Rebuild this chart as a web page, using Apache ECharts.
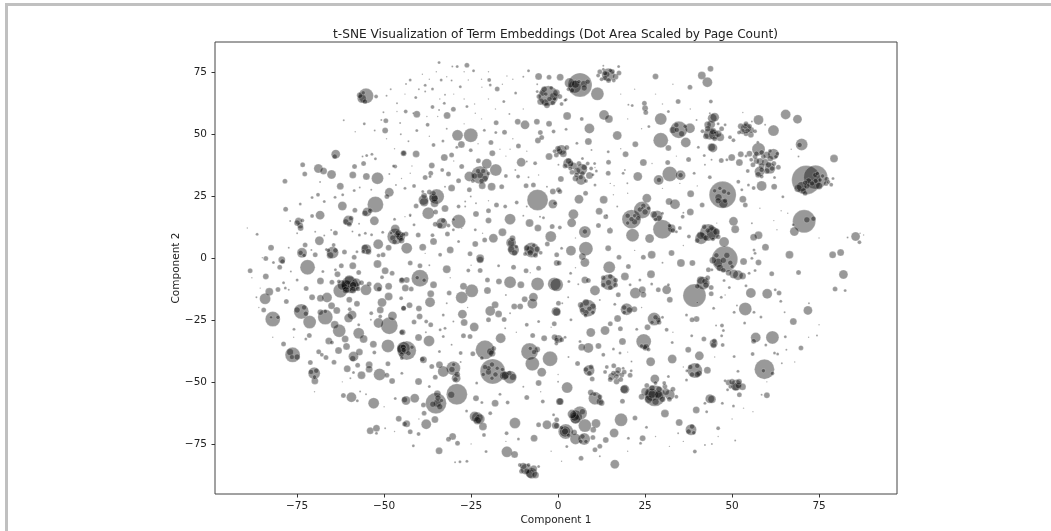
<!DOCTYPE html>
<html><head><meta charset="utf-8"><style>html,body{margin:0;background:#fff}#c{width:1051px;height:531px}</style>
<script src="https://cdn.jsdelivr.net/npm/echarts@6/dist/echarts.min.js"></script></head><body><div id="c"></div>
<script>
const titleText = "t-SNE Visualization of Term Embeddings (Dot Area Scaled by Page Count)";
const xName = "Component 1", yName = "Component 2";
const xTicks = [-75,-50,-25,0,25,50,75];
const yTicks = [-75,-50,-25,0,25,50,75];
// each term: [component 1, component 2, page count]
const northWestFar = [[-55.2,65.3,225],[-56.4,64.2,81],[-52.3,65,16],[-49.5,55.3,25],[-49.7,51.3,36],[-55.7,54,9],[-61.6,55.5,4],[-50.2,58.7,4],[-48.1,68,4],[-50.8,55.6,4],[-63.9,41.8,81],[-64.2,40.8,25],[-73.4,37.5,25],[-68.9,36,81],[-67.4,35,49],[-65.1,33.6,81],[-72.8,33.8,25],[-78.5,30.9,25],[-59,33.4,49],[-55.1,32.8,49],[-51.9,32.1,144],[-55.9,38,25],[-58.5,36.8,25],[-52.5,39.9,9],[-62.6,28.9,49],[-48.5,26.4,81],[-49.2,24.7,25],[-52.5,21.5,256],[-54.9,18.5,81],[-62,20.9,81],[-68.4,17.2,81],[-60.3,15,100],[-52.8,14.9,81],[-78.3,19.6,25],[-74.6,14.8,49],[-74.1,13,36],[-70.7,16.9,16],[-68.6,6.9,81],[-64,10,25],[-86.5,9.5,9],[-82.5,4.1,36],[-73.6,2,100],[-64.8,2.1,144],[-61.4,2.3,25],[-55.1,3.5,100],[-51.7,5.5,100],[-46.8,8.6,256],[-46.3,9.2,36],[-46.8,11.6,81],[-58.6,0.2,25],[-50.3,1.2,25],[-48.7,4.1,36],[-72.7,5.2,25],[-79.4,-0.8,49],[-84,-0.3,25],[-44.4,42.2,25],[-46.8,36.8,16],[-64.1,24.4,9],[-61.9,25.4,9],[-58.6,27.1,9],[-58.4,19.2,25],[-47,15.6,9],[-50.4,10.3,9],[-64.5,5.2,16],[-55.4,9.9,9],[-57.1,9.2,9],[-53.6,9.3,9],[-57.2,13.7,4],[-69.8,1.2,25],[-66.6,3.4,9],[-57.8,2.5,9],[-51.6,0.9,16],[-69,25.4,16],[-70.7,24.3,9],[-74.1,21.7,9],[-67.2,22.7,9],[-77,14.8,4],[-75,9.9,4],[-69.8,10.5,4],[-53.5,41.8,9],[-55,41.2,9],[-56.2,40.8,4],[-48.5,33.8,4],[-68.4,30.6,4],[-57,28.3,4],[-53.7,27.4,4],[-46.6,29.4,4],[-65.2,11.2,4],[-59.1,10.6,4],[-89.3,12,2],[-49.3,48,2],[-58.3,50.8,2],[-52.7,51.3,4],[-49.3,65.3,4],[-46.3,62.3,4],[-45.4,54.3,4],[-45.2,49.8,4],[-46.3,59,2],[-47.3,37,9],[-77.4,4.1,4],[-67.2,9,4],[-70.9,3.2,4]];
const northWestMid = [[-2.8,65.3,400],[-3.7,62.6,49],[-1.3,65,64],[-4.4,66.4,36],[-5.6,73.1,49],[-2.6,72.8,25],[0.6,72.8,49],[-6,70,4],[-8.5,75.4,9],[-26.2,77.6,25],[-34.2,78.7,9],[-24.3,75.4,9],[-19.8,71.7,16],[-19.5,69.7,9],[-17.5,68.1,25],[-38.2,69.6,9],[-33.6,71.7,9],[-40.9,64.6,9],[-40.6,57.9,49],[-43.8,59,16],[-36.1,60.8,16],[-31.9,57.4,49],[-30.1,59.9,25],[-34.2,59.6,4],[-37.5,53.6,16],[-26.2,61,9],[-28.1,69,9],[-15.6,63,9],[-12.2,66.4,9],[-28.9,49.4,121],[-25.1,49.4,196],[-27.8,45.7,49],[-25.1,43.4,16],[-35.8,45.5,16],[-33.1,47.1,9],[-40.6,51.3,9],[-17.8,54.5,25],[-15.4,50.6,25],[-11.6,54.9,36],[-9.5,53.6,81],[-6.1,54.9,36],[-2.6,54,36],[-21.2,51.4,9],[-17.9,50.5,9],[-19.3,46.5,25],[-18.9,42.2,36],[-11.4,45.1,25],[-5.1,50.5,25],[-1.3,50.9,16],[-5.8,47.3,36],[-4.7,48.5,25],[-10.6,38.5,81],[-2.6,40.8,49],[-6.6,38.1,16],[-11.5,32.8,16],[0.8,31.8,36],[-44.4,42.2,36],[-40.8,41.9,49],[-32.7,40.4,49],[-30.6,41.5,25],[-36.3,37.2,36],[-33.3,35.4,16],[-36.6,34.1,25],[-31.5,33.8,25],[-38.2,32.4,25],[-41.4,29,16],[-27.7,36.8,25],[-22.9,39.1,25],[-20.5,37.9,100],[-17.9,35.4,144],[-22.4,33.4,324],[-25.5,32.8,100],[-22.4,33.4,49],[-19.1,28.7,64],[-21.8,29.1,49],[-16.2,28.7,25],[-15,33,16],[-28.6,31.1,25],[-25.5,27.4,25],[-30.6,28.1,49],[-34.9,24.7,225],[-35.8,24,81],[-38.7,23.3,100],[-37.3,18,144],[-32.5,19.9,49],[-40.8,20.9,25],[-35.2,18.5,25],[-33.4,13.9,121],[-28.6,14.6,196],[-35.3,13.5,25],[-5.9,23.3,441],[-1.5,21.7,81],[-1.5,26.7,36],[0.1,27.4,25],[-7.1,29.4,25],[-9.2,29.1,25],[-11.9,22.3,16],[-17.7,21.3,25],[-15.2,20.7,16],[-28.6,20.7,16],[-23.6,17.7,36],[-20,15,36],[-13.8,15.6,121],[-8.2,14,64],[-5.8,12,49],[-1.7,12.6,25],[-2.1,8.6,121],[-16,10.3,64],[-13.1,7.9,36],[-13.5,6.1,100],[-12.8,3.2,121],[-18.6,7.9,81],[-21.1,7.2,25],[-7.6,3.2,225],[-8,3.2,64],[-23.8,5.6,36],[-31,3.2,49],[-38.9,4.3,49],[-35.8,6.6,49],[-43.5,3.9,121],[-31.8,9.6,25],[-40.2,9.2,25],[-36.1,9.1,16],[-25.3,1.6,25],[-22.4,-0.2,64],[-33.9,1.2,16],[-20,19,25],[-23.8,11.3,9],[-3.1,5.6,25],[-0.4,1.2,25],[-43.7,9.6,25],[-45.2,8.6,81],[-42.5,17.3,9],[-41.4,13.3,9],[-4.2,16.2,9],[-30.4,77.1,4],[-29,77.1,9],[-42.5,71.7,9],[-43.7,70.1,4],[-36.1,68.1,9],[-38.2,67,4],[-32.5,65.7,4],[-30.6,71.5,4],[-23.8,58.3,2],[-32.7,62.3,9],[-21.9,68.8,2],[-14.7,73.3,2],[-25.8,71.7,2],[-29.1,44.6,9],[-16.7,43.8,2],[-13.8,43.8,2],[-41.6,58.3,4],[-37.7,57,2],[-34.6,57,2],[-42.5,34.1,2],[-44,28,9],[-36.8,32.8,9],[-26.7,22.7,4],[-25.1,24.7,4],[-23.6,22,4],[-3.2,28.7,4],[-9,38.8,4],[-5.6,33.4,2],[-8.5,32.5,4],[0.1,37.5,4],[-12.3,35.4,4],[-30.1,11.3,9],[-27.7,11.9,2],[-26.7,20.7,4],[-32.5,28.7,4],[-42.5,16.9,4],[-44,16.6,2],[-38.2,1.8,2],[-28.6,6.6,9],[-21.7,9.9,2],[-9,20.7,4],[-5.2,16.6,4],[-35.8,26,25],[-38.9,26.7,9]];
const northEastMid = [[6.3,69.7,576],[4.8,69,169],[7.4,70.1,49],[11.3,66.1,169],[14.4,73.8,169],[13.5,74.4,25],[15.6,75.1,25],[17.4,77.1,9],[13,77.4,4],[28,73.1,36],[41.3,73.5,64],[43.8,76.2,36],[42.9,70.8,100],[37.9,68.8,25],[34.5,63,25],[43.9,63,16],[2.3,63.8,9],[21.3,61.4,9],[24.8,62.3,25],[25,60.3,36],[25.2,58.6,25],[13.2,57.6,100],[14.6,56,64],[2.6,57.2,64],[6.8,56,16],[9,52.1,100],[17,49.3,81],[8.7,46.9,49],[1,43.5,100],[0.5,42.9,36],[5.4,46.2,9],[14.4,42.8,9],[14.5,38.5,25],[19.4,41.8,36],[22.2,45.8,36],[24.5,38.4,49],[29.5,56,144],[29.5,47.4,225],[31.7,44.3,36],[34.7,51.6,289],[37.9,52.2,100],[36.7,46.5,100],[43,53.6,49],[44.3,56.3,81],[43.6,50,144],[44.1,44.6,64],[37.5,39.6,25],[32.1,33.8,225],[28.9,31.4,100],[35.2,33.3,100],[22.9,32.8,81],[31.5,38.4,25],[43.6,32.5,16],[38.1,25.8,49],[41.4,21.3,25],[2.9,38.1,100],[3.6,37.9,36],[6.8,35.7,121],[6.6,31.4,100],[9,33.2,49],[5.3,33.4,25],[6,23.6,81],[7.9,26,25],[13.1,23.4,64],[11.8,18.8,49],[4.4,17.6,100],[3.9,14.1,81],[25.5,24,81],[24.2,19.3,289],[21.1,15.6,361],[21.4,9.1,169],[28.5,16.9,121],[30,11.5,361],[26.3,7.8,81],[33.6,21.6,100],[31.9,22.7,49],[38,18.5,49],[32.6,11.9,64],[7.7,10.4,144],[0.5,12.2,16],[14.9,10.9,36],[11.6,13,25],[13.7,16.6,25],[8,3.7,196],[3.7,2.9,100],[14.4,3.9,36],[7,0.5,49],[17.5,0.2,25],[24.5,0.2,25],[26.9,1.2,64],[32.6,1.9,36],[41.1,7.9,144],[43.2,10.2,289],[37.6,8.6,16],[19.2,35.4,4],[14.4,34.1,25],[10.6,29.4,9],[35.8,16.6,16],[0.5,26.7,25],[-0.9,22,16],[40.3,44.6,9],[42,41.2,9],[26.1,52.9,9],[31.7,59,9],[1,3.9,9],[10.6,36.4,2],[9.6,43.5,4],[2.3,51.8,9],[16.1,29.1,2],[15.9,25.4,2],[19.9,30.1,4],[17,20.7,4],[14,17.2,4],[18.7,34.1,9],[20.2,61.7,4],[39.8,55.6,4],[43.6,58.3,4],[39.1,34.1,9],[36,18.2,4],[44.1,39.5,4],[42.2,37.5,4],[24.2,20,9],[21.1,15.6,25],[7.7,10.6,25],[34.1,51.6,25],[29,31.4,25],[35.2,33.3,25]];
const northEastFar = [[71.3,31.4,841],[74,32.5,576],[47.3,25.4,729],[70.7,14.7,529],[65.4,57.8,100],[68.8,55.9,81],[57.6,55.6,100],[61.9,51.3,121],[54,52.2,100],[70,45.7,144],[79.3,40,64],[57.6,43.8,169],[61.9,41.8,121],[58.5,29,100],[62.1,28.7,36],[57.9,34.8,100],[60.9,36.1,121],[45,56.7,81],[44.5,44.3,81],[46.6,48.6,64],[44.7,49.6,100],[50.4,14.7,81],[50.9,11.5,64],[44.5,9.9,169],[47.7,6.4,100],[56.2,8.3,49],[57.6,9.1,64],[59.6,4.3,49],[66.5,1.2,64],[78.9,1.2,49],[81.2,2.1,49],[85.5,8.6,81],[86.6,6.3,16],[67.9,10.6,81],[73.4,15.8,25],[71.5,15.3,36],[47.9,-0.5,676],[53.1,23.6,49],[53.8,21.3,25],[46.9,39.2,25],[49.9,40.4,49],[52.1,38.4,49],[52.5,41.8,36],[50.4,47.4,16],[54.5,35,16],[51.8,30.7,16],[64.6,24.6,9],[77.2,31.7,25],[77.7,30.6,16],[67.6,13.3,9],[47.5,21.9,81],[46.1,24.4,49],[47.7,26.7,25],[56.2,28.1,16],[53.8,52.9,25],[54.4,51.3,25],[56.6,51,16],[55.4,49.6,36],[56.6,40.8,25],[59,40.8,25],[58.1,38.8,49],[60.5,37.5,36],[60.9,43.1,16],[62.6,40.8,16],[63.3,36.5,25],[70,28.7,100],[71,30.3,25],[73.9,33.4,25],[75.3,31.4,16],[69.4,45.5,25],[53.1,58.6,2],[59.5,53.6,4],[55.7,55,4],[48.5,39.5,9],[45.1,50.5,9],[48,53.6,9],[54.7,29.4,9],[52.8,27.4,9],[49.4,48.6,16],[57.4,46.6,9],[69.1,40.8,4],[67,43.8,2],[58.5,32.8,16],[62.2,32.4,9],[55.7,13.9,4],[64.1,19,2],[62.9,11.3,2],[68.6,27.4,2],[83.2,8.2,4],[86.8,9.9,2],[87.8,9.2,2],[56.3,3.2,9],[56.6,1.8,9],[55.7,-0.2,9],[45.6,14,2]];
const southWestFar = [[-72,-3.8,225],[-88.5,-5.2,25],[-84,-7.5,36],[-79.2,-1.5,25],[-80,-3.8,25],[-68.3,-9.3,49],[-63.4,-6.6,36],[-59,-3.2,49],[-62.3,-3.2,25],[-51.9,-2.5,64],[-49.7,-5.2,49],[-47.7,-6.2,25],[-44.9,-8.9,25],[-50.6,-7.8,16],[-59.9,-10.9,289],[-60.9,-10.9,100],[-58.9,-11,49],[-62.6,-13.3,196],[-55.2,-12.9,121],[-51.8,-11.8,81],[-48.7,-11.5,49],[-54.3,-10.5,25],[-51.4,-12.6,25],[-57.3,-5.9,25],[-65,-9.8,25],[-72.4,-12.4,25],[-80.5,-12.8,25],[-83,-13.7,64],[-84.2,-16.5,121],[-78.4,-12.2,9],[-78.1,-17.6,25],[-70.7,-15.9,36],[-66.4,-16,100],[-68.3,-16.3,49],[-60,-16.9,36],[-57.8,-18.5,36],[-50.6,-18,81],[-48.7,-15.6,64],[-45.1,-16.3,16],[-84.6,-21,25],[-73.8,-21.6,225],[-82,-24.7,225],[-71.4,-25.9,169],[-66.9,-23.9,225],[-65.1,-19.3,49],[-63.6,-21.2,49],[-68.3,-21.9,36],[-66.9,-21.6,16],[-59.2,-23,81],[-60.2,-24.3,81],[-59.9,-20.7,16],[-53.7,-22.3,16],[-51.1,-21,49],[-51.6,-26.3,100],[-48.5,-27.4,289],[-47.6,-23.4,81],[-44.4,-20.3,25],[-64.2,-27,64],[-62.9,-29.4,169],[-57.3,-30.4,121],[-55.9,-32.7,64],[-61.2,-32.7,49],[-44.9,-30,25],[-44.4,-36.4,169],[-48.9,-35.5,169],[-53.1,-34.8,49],[-65.9,-33.5,49],[-65,-34.1,16],[-71.5,-31.3,25],[-78.9,-34.7,25],[-75.9,-28.8,9],[-72.5,-32.7,9],[-63.1,-37.4,49],[-60.8,-35.7,49],[-76.3,-39.1,225],[-68.8,-37.9,25],[-67.9,-39.1,16],[-66.7,-40.2,25],[-57.1,-38,49],[-58.8,-39.8,100],[-59,-40.6,36],[-64.4,-42.1,25],[-52.8,-38.2,16],[-54.3,-43.1,49],[-48.9,-42.7,25],[-44.9,-40.4,16],[-71.2,-42.2,25],[-70.1,-46.5,144],[-69.9,-49.6,49],[-60.6,-44.7,49],[-57.6,-43.3,25],[-54.3,-44.9,49],[-56.5,-47.3,64],[-51.3,-47,144],[-49.2,-47.3,25],[-47.7,-49.7,36],[-59.4,-56.2,100],[-61.7,-55.5,25],[-53,-58.6,121],[-57.7,-57.6,9],[-46.8,-56.7,9],[-44.1,-57.2,36],[-45.8,-64.9,36],[-44.1,-67,25],[-54,-69.7,49],[-52.2,-68.7,49],[-52.2,-70.7,9],[-49.7,-68.7,4],[-55.2,-55,4],[-56.9,-53.9,4],[-59.7,-48.5,4],[-58.8,-46.2,9],[-44.9,-46.5,9],[-75,-8.9,9],[-76.8,-5.5,4],[-85.6,-12.2,2],[-86.7,-15.9,4],[-77.4,-12.9,4],[-78.9,-10,9],[-81.8,-1.9,9],[-67.6,-5.5,9],[-64,-4.8,9],[-51.1,-23.6,16],[-53.8,-25,4],[-57.3,-27,9]];
const southWestMid = [[-39.7,-8.2,289],[-44.9,-9.1,36],[-43.5,-8.9,36],[-42.5,-2.1,25],[-39.7,-3.2,25],[-35.8,-10.9,49],[-32,-4.6,64],[-43.9,-12.2,49],[-42.2,-12.6,25],[-36.6,-14.5,49],[-36.8,-17.9,100],[-40,-20.4,36],[-42.7,-19.1,36],[-44.4,-20.3,25],[-41.4,-25.9,25],[-39.8,-23.6,36],[-37.9,-25.7,16],[-36.6,-27,25],[-44.7,-30,36],[-43.5,-37.4,361],[-44.9,-36.8,100],[-40.1,-32.1,49],[-37.1,-33.5,121],[-32.5,-28.4,9],[-27.7,-16,144],[-24.8,-13.3,169],[-27.2,-11.5,49],[-31.3,-14.2,25],[-20.3,-13.2,49],[-25.8,-5.1,16],[-22.4,-5.1,25],[-22.4,-0.8,49],[-20.3,-8.9,25],[-17.1,-3.2,9],[-17,-9.5,36],[-13.8,-9.8,144],[-10.7,-10.9,49],[-5.9,-10.5,169],[-1.1,-10.5,169],[-9.2,-5.2,25],[-12.8,-3.8,25],[-5.6,-4.2,25],[-0.4,-2.1,36],[-9.6,-16.7,36],[-7.1,-15.9,81],[-7.4,-18.5,100],[-12.6,-19.6,36],[-10.9,-19.6,36],[-18.1,-18.9,49],[-19.5,-21.4,100],[-17.1,-22.6,49],[-27.5,-22.7,81],[-27,-26.1,49],[-24.1,-27.9,81],[-20,-25,25],[-15.5,-24.9,25],[-0.6,-21.6,81],[-1.1,-26.6,25],[-9,-27,16],[-16.5,-32.4,100],[-21,-37.1,361],[-19.5,-37.8,49],[-27.2,-31.4,25],[-25.3,-31.7,25],[-34.1,-37.8,9],[-28,-38.4,16],[-24.5,-38.7,25],[-21.9,-40.4,16],[-8.2,-37.8,289],[-6.9,-38,25],[-7.4,-42.7,196],[-2.3,-40.7,225],[-0.4,-33.1,25],[-4,-32.4,36],[-7.3,-31.3,25],[-4.7,-46.1,81],[-5.6,-50.5,36],[-18.8,-45.8,625],[-20,-44.5,25],[-15.2,-47.4,64],[-13.8,-48.1,169],[-33,-45.8,121],[-30.1,-44.5,196],[-29.3,-48.5,81],[-34.1,-43.1,49],[-36.3,-43.8,25],[-38.7,-41.1,49],[-35.3,-48.1,25],[-40.1,-49.9,49],[-29.1,-55,441],[-35.1,-58.6,441],[-34.7,-54.8,49],[-30.7,-55.2,49],[-41.2,-56.6,81],[-43.7,-57.5,81],[-38.7,-59.3,25],[-34.7,-58.6,64],[-23.6,-56.6,36],[-18.1,-58.6,49],[-14.5,-58.3,16],[-9,-56.3,25],[-4.4,-57.9,16],[0.4,-57.9,49],[-23.2,-64.4,121],[-23.2,-65.6,64],[-21.6,-68,64],[-19.5,-62.6,16],[-12.4,-66.6,121],[-3.2,-67.3,81],[-0.8,-67.6,49],[-5.6,-67.3,25],[-43.5,-66.9,49],[-37.9,-67.1,100],[-35.4,-65.2,49],[-42.5,-70.1,25],[-40.1,-71,16],[-38.5,-62.6,25],[-26.3,-61.7,9],[-31.5,-73.1,25],[-30.3,-72,49],[-28.9,-74.7,25],[-34.2,-77.8,49],[-41.6,-75.8,9],[-21.3,-71.4,16],[-14.8,-70.7,16],[-11.4,-73,9],[-6.9,-72.7,49],[-14.7,-78.2,121],[-12.5,-79.3,49],[-20.7,-78.1,9],[-9.2,-85.2,121],[-7.6,-86.8,121],[-5.6,-84.1,9],[-28.2,-82.2,9],[-26.2,-82,9],[-29.6,-82.4,4],[-23.4,-50.5,9],[-37,-51.9,9],[-1.3,-63.3,9],[-21.9,-58.3,9],[-16.7,-55,9],[-33,-23,9],[-32,-18.3,4],[-30.1,-25.7,4],[-33.9,-29,9],[-33,-31.7,9],[-30.6,-35,4],[-13.8,-22.3,4],[-15.2,-28.4,4],[-5.6,-25.7,9],[-39,-40.9,25],[-44.4,-37.1,25]];
const southEastMid = [[14.7,-3.8,144],[7.7,-1.9,81],[19.2,-7.5,64],[20.2,-3.5,25],[14.6,-9.8,256],[10.6,-13.2,100],[7.7,-8.9,49],[8.7,-9.1,25],[-0.4,-10.9,169],[26.7,-6.6,64],[22.2,-14.2,121],[24.2,-12.9,49],[24.5,-14.9,36],[28.8,-12.9,25],[31.2,-12.9,81],[32.1,-16.9,36],[35.3,-2.1,64],[38.6,-2.1,36],[39.2,-15.2,529],[41.7,-10.2,169],[42.2,-9.5,36],[8.5,-20.3,289],[7.9,-23.2,16],[-0.4,-21.8,64],[19.7,-20.7,144],[21.9,-20.7,36],[27.6,-24.7,169],[28.8,-25,25],[17.1,-24.5,49],[9.4,-30.1,81],[13.5,-29.3,81],[17.9,-28.6,25],[15,-26.6,25],[25.7,-28,36],[24.6,-33.7,225],[25.2,-36,49],[18.5,-33.7,49],[8.7,-36.3,100],[6.8,-36,49],[11.6,-35.5,36],[32.8,-34.1,9],[37.4,-37.1,36],[39.8,-24.7,36],[38.5,-25,25],[31.2,-29,16],[41.9,-32.7,25],[44.7,-34.4,64],[40.6,-39.5,81],[26.6,-41.9,81],[32.8,-40.8,81],[39.3,-45.4,225],[40.5,-46.5,36],[42.9,-45.3,49],[8.9,-45.4,121],[5.6,-42.6,25],[13,-39.1,16],[15.9,-36.8,9],[9.8,-48.8,25],[2.6,-52.3,121],[0.6,-57.9,49],[15.9,-46.5,25],[17.3,-45.2,36],[18.3,-47.2,25],[15.4,-47.8,49],[16.8,-49.9,36],[18.7,-44.5,9],[20.7,-47.3,25],[19.2,-53,81],[16.8,-47.8,25],[10.6,-56.6,169],[12,-57.9,49],[9.4,-54.3,36],[18.5,-57.8,25],[27.8,-48.8,81],[27.8,-55.6,441],[26.9,-55.2,169],[28.8,-55,64],[32.1,-55.2,100],[30.7,-51.9,25],[30.7,-62.8,64],[34.8,-66.4,49],[38.2,-69.3,121],[39.7,-61.3,49],[43.6,-56.8,81],[22.1,-64.6,25],[18.1,-65.3,169],[5.1,-64,169],[4.8,-64,81],[6.3,-62.6,196],[7.7,-67.6,169],[10.9,-66.8,81],[10.1,-69.3,36],[2.2,-70,225],[2,-70,49],[4.6,-70.4,36],[5,-73,121],[7.5,-73,144],[10,-72.4,25],[13.7,-73.4,36],[16.1,-70.6,81],[-0.4,-67.7,36],[-0.4,-65.3,25],[10.6,-77.4,25],[12,-76,25],[24.3,-72.7,36],[16.3,-83.2,81],[6.6,-80.8,25],[39.3,-78.1,16],[20.2,-72.7,9],[23.7,-74.7,9],[25.4,-68.3,9],[2.5,-76.1,9],[16.3,-18.7,9],[3.6,-6.2,9],[3.1,-9.5,9],[5.8,-10.6,4],[0.3,-2.1,25],[20.7,-10.9,9],[17.3,-14.9,25],[23.5,-8.9,9],[26.9,-10.5,9],[3.7,-25,9],[1.2,-18.3,4],[0.1,-18.3,25],[2.9,-15.9,4],[22.6,-28.8,9],[38.4,-31.4,9],[0.1,-32.7,64],[6.3,-33.7,9],[21.1,-41.8,4],[31.7,-47.8,9],[36.9,-49.2,9],[42.2,-58.6,9],[42.7,-62,9],[42.2,-75.4,4],[34.5,-70.7,4],[17.8,-38.4,9],[31.7,-10.9,9],[43.2,-4.8,25],[36.9,-23,9]];
const southEastFar = [[82,-6.7,81],[79.6,-12.6,25],[82.5,-13.2,9],[71.8,-21.2,81],[67.6,-25.7,49],[53,-7.3,49],[51.7,-7,100],[55.4,-14.2,100],[60.1,-14.5,100],[63.5,-14.2,25],[64,-17.5,9],[53.8,-20.6,169],[57.6,-1.9,36],[53.3,-1.5,49],[61.4,-6.4,25],[69.1,-5.9,25],[50.6,-21.9,9],[58.3,-23.9,9],[56.3,-21.9,9],[56.8,-32.1,100],[61.6,-32.1,169],[56.2,-33.6,25],[65.3,-31.8,9],[69.8,-36.3,25],[44.9,-33.5,25],[44.7,-35.2,36],[47.1,-27.3,16],[47.3,-35.1,16],[55.9,-38.8,16],[50.6,-39.8,9],[62.2,-38.4,9],[63.1,-38.8,9],[65.6,-37.1,4],[53.6,-26.3,9],[59.3,-44.9,400],[59,-45.5,16],[61.6,-46.6,16],[51.7,-45.7,9],[51.2,-51.3,121],[51.8,-51.5,36],[49,-50.3,36],[60,-55.4,36],[52.1,-55.2,25],[44.2,-57,64],[50.4,-59.7,9],[46,-68.7,16],[47.2,-58.6,9],[48.7,-53.2,9],[50.9,-73.6,4],[44.2,-75,4],[74.4,-31.3,4],[64.3,-42.5,4],[72.1,-18.3,4],[65.1,-21.9,4],[58.5,-55.2,4],[53.3,-60.6,2],[47.7,-9.1,9],[49.2,-12,9],[46.9,-15.9,9],[44,-14.5,25],[44.7,-20.3,9],[51.4,-19.2,4],[54,-11.3,9],[56.6,-5.1,9],[54.9,-6.2,9],[44.2,-4.8,9],[62.4,-12.9,9],[45.4,-27.3,4],[47.5,-29.3,9],[47,-31.4,9],[59.7,-35.1,9]];
const northClusters = [[-4,68,36],[-2,68.5,16],[-5.5,65,25],[-5,63,49],[-3.2,61.5,36],[-1.5,62.5,25],[-0.5,66.5,49],[0.5,65,25],[-2.5,64,25],[-3.5,66,16],[-1,64,16],[-6,67,9],[1,62,16],[2,63.5,9],[3.3,70.5,100],[5,70,64],[4,67.5,25],[7.5,68.5,36],[6,71,16],[8.5,71,25],[3,68,16],[12,75,25],[13.5,72.5,25],[14.5,71.5,25],[16.5,73,36],[15,75.5,16],[12.5,72,16],[16,71.5,16],[11.5,73.5,16],[13,76,9],[17.5,74.5,25],[14,74,36],[-57,65.5,36],[-56,66.5,16],[-55.5,63,25],[3,39,36],[4.5,37,49],[6,38,25],[7.5,36.5,36],[5.5,35,49],[4,34.5,25],[7,34,25],[8.5,38,16],[9.5,36,16],[6.5,32.5,25],[5,32,36],[3.5,36,16],[10.5,38,9],[11,35,9],[8,31,16],[2,37,25],[10,33.5,9],[7,40,9],[0,44,36],[1.5,42,49],[-0.5,41.5,25],[2.5,44.5,25],[-1,43,16],[20,17,25],[22,14.5,36],[23,16,25],[24.5,21,25],[25,18.5,36],[23.5,19.5,25],[26,20,16],[20,14,16],[22,17,16],[33,11,25],[35,12,16],[32,13,16],[34,10.5,9],[27.5,17.5,49],[29,16,36],[28,15.5,16],[30,18,9],[41,9,64],[42.5,8,36],[44,12,36],[45.5,10.5,49],[43,11,25],[46,8.5,25],[44.5,7.5,16],[42,12.5,25],[40,7,25],[33,51.5,49],[35.5,50,36],[34,53.5,25],[36.5,53,16],[43,52,36],[44.5,51,49],[46,50,49],[42.5,49,36],[45,48,25],[47,52,25],[41.5,51,16],[44,53.8,64],[46,54,9],[52.5,53,36],[54,54,25],[55,53,25],[53,51,36],[55.5,51.5,36],[52,50.5,16],[54,50,25],[55,42,36],[57,42,25],[58.5,42.5,25],[60,41.5,49],[61,40,36],[57,39,36],[58.5,37,36],[59.5,38.5,49],[56,37.5,25],[62,38,25],[60,35,36],[57.5,33.5,36],[58.5,35.5,25],[61.5,36,25],[55.5,39.5,16],[63,42,16],[54,41,9],[69,28,64],[70.5,27,36],[71.5,29,36],[72,31,36],[74,31,25],[75,29,49],[76,33,16],[77,30,25],[73,30,25],[71,26,25],[74.5,34,16],[78.5,29.5,16],[79,32,9],[46,23,36],[48,23,25],[49,26,16],[45,27,16],[46.5,28,16],[-47.5,8,36],[-46,10,36],[-45,7,36],[-47,6.5,25],[-44.5,9.5,16],[-48,10,9],[-45.5,8.5,49],[-24,33,36],[-21,32,36],[-23,35,25],[-21.5,35,25],[-22,31,25],[-24.5,31,16],[-20,34,16],[-9,4,36],[-8,2,36],[-6,3.5,36],[-7,5,16],[-6.5,1,25],[-9.5,1.5,16],[-5,2,16],[-13.5,3.5,49],[-12.5,2,36],[-13.5,6,49],[-12,4.5,16],[-38.5,22.5,81],[-38.5,25,36],[-35.5,22,64],[-35.5,24,49],[-37,26.5,25],[-34,13,36],[-33,15,25],[-31.5,13,16],[-30,15.5,9],[-55.5,18,36],[-54,19,25],[-61,14.5,36],[-59.5,16,25],[-60,13.5,25],[-75,14,36],[-74,12,36],[-73.5,15,16],[-65.5,1,49],[-64,3,25],[-66,3,16],[-55.5,4,49],[-54.5,2.5,36],[-56,2.5,16],[-74,2,25],[-73,1,16]];
const southClusters = [[-62,-11,100],[-60,-9,100],[-58,-10,81],[-61,-13,49],[-59,-13,49],[-56.5,-10,25],[-63,-9.5,16],[-57.5,-12.5,25],[-60.5,-11.5,144],[-58.5,-11.5,100],[46,-2,81],[46.5,-4,49],[47.5,-1,36],[48.5,1,36],[49.5,-2,25],[44.5,-1,49],[45.5,1,25],[50,-3.5,16],[47.5,-5,25],[49,-6,36],[50.5,-6.5,81],[25,-54,64],[27,-52.5,36],[29,-53,36],[31,-54,49],[26,-57,64],[28,-58,49],[30,-57,36],[27,-55,64],[29,-55.5,81],[32,-57,25],[24,-56,36],[33,-53,25],[34,-56,16],[25.5,-51.5,25],[28,-50.5,16],[30.5,-50.5,16],[14,-44,16],[16,-43.5,25],[19,-46,25],[17,-46.5,36],[15,-49,25],[18,-49,25],[21,-45.5,9],[13.5,-46,16],[6.5,-19,36],[8,-18,49],[10,-19.5,36],[8,-22,36],[10,-22,16],[7,-21,25],[9,-20.5,25],[13,-8,25],[15,-7.5,25],[16.5,-9,25],[13,-11,25],[15,-12,25],[16.5,-11,25],[14.5,-10,36],[38,-44,25],[40,-43.5,25],[40,-47,36],[38.5,-47,25],[37,-45.5,9],[41,-9,64],[42.5,-11,36],[43,-8,25],[40,-11.5,25],[44,-12,25],[50,-50,36],[52,-50,36],[51,-52,64],[53,-52,49],[49.5,-52,16],[48,-49.5,9],[-77,-38,49],[-75,-40,36],[-76.5,-40,25],[-75,-21,36],[-73,-20,25],[-72.5,-22.5,25],[-82.5,-24,9],[-80.5,-24,16],[-71,-46,25],[-69.5,-45.5,25],[-70,-48,16],[-21,-44,25],[-19,-43,25],[-20,-46,36],[-17.5,-44.5,16],[-18,-47,25],[-16,-45,16],[-21.5,-47,16],[-19,-48.5,16],[-15.5,-47.5,81],[-13,-48,49],[-14,-46.5,25],[-10,-84,49],[-9,-86,36],[-7,-85,49],[-8,-87,81],[-10.5,-86,25],[-6.5,-87.5,49],[-11,-83.5,16],[-8.5,-83.5,16],[-24,-64,100],[-22.5,-65,100],[-40.5,-8,16],[-38.5,-9,16],[-44.5,-36,36],[-43,-38.5,25],[-42,-36,16],[-45,-39,25],[-6,-37,36],[-8,-36.5,16],[-19,-38.5,49],[-18.5,-36.5,25],[-30.5,-45,36],[-29,-47,36],[-29.5,-49,25],[-30,-43,16],[-34.5,-56.5,36],[-36,-59,36],[-34,-60,36],[-33.5,-57.5,16],[4,-63,81],[5,-65,100],[7,-62,36],[2,-70,121],[1,-68.5,16],[3,-71.5,16],[7,-72,25],[8,-74,16],[6.5,-74,16],[8,-45,25],[9.5,-44,25],[9,-46.5,25],[19,-53,64],[12,-56,25],[12.5,-58.5,36],[10.5,-55,16],[38.5,-68,25],[37.5,-70,25],[39,-70.5,16],[25,-36,25],[24,-35.5,16],[26,-37,16],[28,-24,25],[29,-26,25],[27,-26,16],[30,-24,9],[19,-20,25],[20.5,-21,36],[19,-22,16],[-1,-32,36],[1,-33,25],[-0.5,-34.5,16],[2,-32,9]];
const tinyTerms = [[-39,74,2],[-37,72,2],[-35,75,2],[-32,73,2],[-27,75,2],[-22,72,2],[-20,75,2],[-16,70,2],[-13,72,2],[-10,73,4],[-44,66,2],[-40,68,4],[-34,64,2],[-30,66,2],[-27,64,2],[-24,62,2],[-20,64,2],[-18,60,2],[-14,58,4],[-10,60,2],[-22,56,2],[-27,54,2],[-32,52,4],[-37,49,2],[-43,47,4],[-47,44,2],[-13,48,2],[-9,43,2],[-15,41,2],[-23,46,2],[-30,39,2],[-42,37,2],[-45,32,2],[18,66,2],[22,68,2],[28,66,2],[33,70,2],[20,56,2],[24,52,2],[30,62,2],[38,60,2],[18,44,2],[27,38,2],[34,41,2],[15,30,2],[20,26,2],[30,28,2],[35,30,2],[40,29,2],[15,12,2],[36,5,2],[58,20,2],[62,15,2],[66,18,2],[75,8,2],[-85,0,2],[-88,-8,2],[-86,-20,2],[-82,-32,2],[-76,-32,2],[-70,-54,2],[-62,-50,2],[-50,-60,2],[-47,-70,2],[-40,-65,2],[-25,-75,2],[-15,-74,2],[-2,-78,2],[1,-82,2],[12,-80,4],[20,-78,2],[28,-72,2],[32,-76,2],[36,-74,2],[46,-72,2],[50,-65,2],[56,-62,2],[60,-50,2],[68,-42,2],[72,-32,2],[75,-27,2],[-10,-52,4],[0,-47,2],[-5,-54,2],[-12,-30,2],[0,-50,4],[-2,-28,2],[3,-40,4],[20,-38,2],[33,-30,2],[36,-44,2],[45,-40,2],[-28,-42,4],[-38,-30,4],[-26,-20,2],[-15,-15,4],[-8,-6,2],[5,-4,2],[12,-17,4],[24,-20,2],[40,-18,4],[48,-15,2],[-2,12,2],[-20,23,2],[-10,17,4],[5,8,2],[22,3,2],[30,-2,4],[-25,-3,2],[-31,-8,2],[-37,-3,4]];

const terms = [...northWestFar,...northWestMid,...northEastMid,...northEastFar,...southWestFar,...southWestMid,...southEastMid,...southEastFar,...northClusters,...southClusters,...tinyTerms].sort((a,b)=>b[2]-a[2]);
const fontFamily = '"DejaVu Sans"';
const minusLabel = v => String(v).replace('-', '\u2212');
const axisCommon = {
  type:'value', nameLocation:'middle', nameMoveOverlap:false, splitLine:{show:false},
  axisLine:{show:false,onZero:false},
  nameTextStyle:{fontFamily,fontSize:10.5,color:'#222'}
};
const chart = echarts.init(document.getElementById('c'),null,{renderer:'canvas'});
chart.setOption({
  animation:false,
  backgroundColor:'#fff',
  title:{text:titleText,left:550.5,top:24,textAlign:'center',textStyle:{fontFamily,fontSize:12.15,fontWeight:'normal',color:'#222'}},
  grid:{left:215,right:154,top:42,bottom:37,show:true,borderColor:'#444',borderWidth:1,backgroundColor:'transparent'},
  xAxis:{...axisCommon,name:xName,nameGap:21,min:-98.6,max:97.4,
    axisTick:{show:true,length:3.5,lineStyle:{color:'#333'},customValues:xTicks},
    axisLabel:{fontFamily,fontSize:10.5,color:'#222',margin:7,customValues:xTicks,formatter:minusLabel}},
  yAxis:{...axisCommon,name:yName,nameGap:33,min:-95.2,max:87,
    axisTick:{show:true,length:3.5,lineStyle:{color:'#333'},customValues:yTicks},
    axisLabel:{fontFamily,fontSize:10.5,color:'#222',margin:8,customValues:yTicks,formatter:minusLabel}},
  graphic:[
    {type:'rect',shape:{x:5,y:3,width:1046,height:3},style:{fill:'#c0c0c0'},silent:true},
    {type:'rect',shape:{x:5,y:3,width:3,height:528},style:{fill:'#c0c0c0'},silent:true}
  ],
  series:[{type:'scatter',data:terms,symbol:'circle',symbolSize:d=>Math.sqrt(d[2]),large:false,progressive:0,
    itemStyle:{color:'rgba(0,0,0,0.5)',borderColor:'rgba(255,255,255,0.55)',borderWidth:0.5},
    silent:true}]
});
</script></body></html>
